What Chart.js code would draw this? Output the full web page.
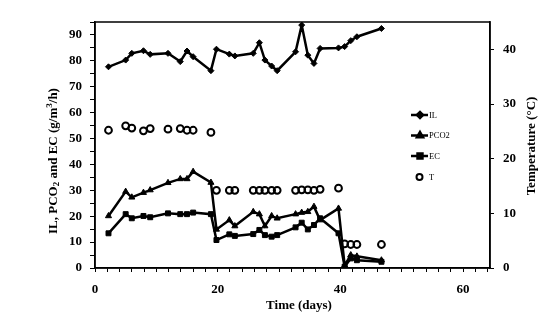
<!DOCTYPE html>
<html><head><meta charset="utf-8">
<script src="https://cdn.jsdelivr.net/npm/chart.js@4"></script>
<style>html,body{margin:0;padding:0;background:#fff}canvas{display:block}</style>
</head><body>
<canvas id="c" width="552" height="313"></canvas>
<script>
// Time (days)
const days = [2.2, 5, 6, 7.9, 9, 11.9, 13.9, 15, 16, 18.9, 19.8, 21.9, 22.8, 25.8, 26.8, 27.7, 28.8, 29.7, 32.7, 33.7, 34.7, 35.7, 36.7, 39.7, 40.7, 41.7, 42.7, 46.7];
// g/m3/h
const IL   = [77.7, 80.3, 82.9, 83.9, 82.5, 82.9, 79.7, 83.8, 81.6, 76.2, 84.5, 82.6, 81.9, 82.9, 87.0, 80.3, 78.0, 76.2, 83.5, 93.8, 82.2, 79.0, 84.8, 85.0, 85.5, 87.8, 89.3, 92.5];
const PCO2 = [20.1, 29.5, 27.3, 29.1, 30.1, 32.9, 34.4, 34.4, 37.2, 33.0, 14.9, 18.5, 16.2, 21.7, 20.8, 16.2, 20.1, 19.2, 20.8, 21.4, 21.7, 23.7, 18.5, 23.0, 1.0, 5.0, 4.5, 3.0];
const EC   = [13.4, 20.8, 19.2, 20.1, 19.6, 21.1, 20.8, 20.8, 21.4, 20.8, 10.8, 13.0, 12.4, 13.1, 14.7, 12.7, 12.1, 12.7, 15.7, 17.5, 14.9, 16.6, 19.2, 13.4, 0.5, 3.7, 3.0, 2.4];
// Temperature (°C)
const T    = [25.2, 26.0, 25.6, 25.1, 25.5, 25.4, 25.5, 25.2, 25.2, 24.8, 14.2, 14.2, 14.2, 14.2, 14.2, 14.2, 14.2, 14.2, 14.2, 14.3, 14.3, 14.2, 14.4, 14.6, 4.4, 4.3, 4.3, 4.3];
const xLabels = [0, 20, 40, 60];
const yLabels = [0, 10, 20, 30, 40, 50, 60, 70, 80, 90];
const y2Labels = [0, 10, 20, 30, 40];

const FONT = "'Liberation Serif', 'Times New Roman', serif";
Chart.defaults.font.family = FONT;
Chart.defaults.color = '#000';

const pts = ys => days.map((d, i) => ({x: d, y: ys[i]}));

const legendItems = [
  {label: 'IL', style: 'rectRot', r: 3, line: true},
  {label: 'PCO2', style: 'triangle', r: 3.5, line: true},
  {label: 'EC', style: 'rect', r: 3.5, line: true},
  {label: 'T', style: 'circle', r: 3, line: false}
];

const decor = {
  id: 'decor',
  afterDraw(chart) {
    const ctx = chart.ctx, a = chart.chartArea;
    ctx.save();
    ctx.strokeStyle = '#000';
    ctx.lineWidth = 1.5;
    ctx.strokeRect(a.left, a.top, a.right - a.left, a.bottom - a.top);

    // legend
    const lx = 411, ly = [115, 135.5, 156, 177];
    legendItems.forEach((it, i) => {
      const y = ly[i];
      if (it.line) {
        ctx.beginPath(); ctx.lineWidth = 2.5; ctx.moveTo(lx, y); ctx.lineTo(lx + 17, y); ctx.stroke();
        ctx.fillStyle = '#000';
        Chart.helpers.drawPoint(ctx, {pointStyle: it.style, radius: it.r, borderWidth: 1}, lx + 9, y);
        ctx.fill();
      } else {
        ctx.beginPath(); ctx.lineWidth = 2; ctx.fillStyle = '#fff';
        ctx.arc(lx + 8.5, y, it.r, 0, Math.PI * 2); ctx.fill(); ctx.stroke();
      }
      ctx.fillStyle = '#000';
      ctx.font = "8.5px " + FONT;
      ctx.textBaseline = 'middle'; ctx.textAlign = 'left';
      ctx.fillText(it.label, lx + 18, y + 0.5);
    });

    // axis titles
    ctx.fillStyle = '#000';
    ctx.textBaseline = 'middle';
    const big = "bold 13px " + FONT, small = "bold 9px " + FONT;
    const segs = [['IL, PCO', big, 0], ['2', small, 3], [' and EC (g/m', big, 0], ['3', small, -4], ['/h)', big, 0]];
    let total = 0;
    segs.forEach(s => { ctx.font = s[1]; total += ctx.measureText(s[0]).width; });
    ctx.save();
    ctx.translate(54, 161);
    ctx.rotate(-Math.PI / 2);
    let x = -total / 2;
    ctx.textAlign = 'left';
    segs.forEach(s => { ctx.font = s[1]; ctx.fillText(s[0], x, s[2]); x += ctx.measureText(s[0]).width; });
    ctx.restore();
    ctx.save();
    ctx.translate(532, 146);
    ctx.rotate(-Math.PI / 2);
    ctx.font = big; ctx.textAlign = 'center';
    ctx.fillText('Temperature (°C)', 0, 0);
    ctx.restore();
    ctx.font = big; ctx.textAlign = 'center';
    ctx.fillText('Time (days)', 299, 306);
    ctx.restore();
  }
};

const lineDs = (label, data, style, r) => ({
  label, data: pts(data), yAxisID: 'y', borderColor: '#000', backgroundColor: '#000',
  borderWidth: 2.5, pointStyle: style, pointRadius: r, pointBorderWidth: 1,
  pointBackgroundColor: '#000', pointBorderColor: '#000', tension: 0, fill: false
});

new Chart(document.getElementById('c'), {
  type: 'line',
  data: {
    datasets: [
      lineDs('IL', IL, 'rectRot', 3),
      lineDs('PCO2', PCO2, 'triangle', 3.5),
      lineDs('EC', EC, 'rect', 3.5),
      {label: 'T', data: pts(T), yAxisID: 'y2', showLine: false, pointStyle: 'circle', pointRadius: 3.4,
       pointBorderWidth: 2, pointBorderColor: '#000', pointBackgroundColor: 'rgba(255,255,255,0)', borderColor: '#000'}
    ]
  },
  options: {
    responsive: false, animation: false, devicePixelRatio: 1,
    layout: {padding: {top: 22, left: 0, right: 0, bottom: 0}},
    plugins: {legend: {display: false}, tooltip: {enabled: false}},
    scales: {
      x: {
        type: 'linear', min: 0, max: 64.4, position: 'bottom',
        grid: {drawOnChartArea: false, tickLength: 4, color: '#000', tickWidth: 1},
        border: {color: '#000', width: 1.5},
        ticks: {stepSize: 2, includeBounds: false, autoSkip: false, maxRotation: 0, padding: 10,
          font: {size: 13, weight: 'bold'},
          callback: v => xLabels.includes(v) ? String(v) : ''},
        afterFit: s => { s.height = 45; }
      },
      y: {
        position: 'left', min: 0, max: 95,
        grid: {drawOnChartArea: false, tickLength: 5, color: '#000'},
        border: {color: '#000', width: 1.5},
        ticks: {stepSize: 5, includeBounds: false, autoSkip: false, padding: 8,
          font: {size: 13, weight: 'bold'},
          callback: v => yLabels.includes(v) ? String(v) : ''},
        afterFit: s => { s.width = 95; }
      },
      y2: {
        position: 'right', min: 0, max: 45,
        grid: {drawOnChartArea: false, tickLength: 4, color: '#000'},
        border: {color: '#000', width: 1.5},
        ticks: {stepSize: 10, includeBounds: false, autoSkip: false, padding: 9,
          font: {size: 13, weight: 'bold'},
          callback: v => y2Labels.includes(v) ? String(v) : ''},
        afterFit: s => { s.width = 62; }
      }
    }
  },
  plugins: [decor]
});
</script>
</body></html>
